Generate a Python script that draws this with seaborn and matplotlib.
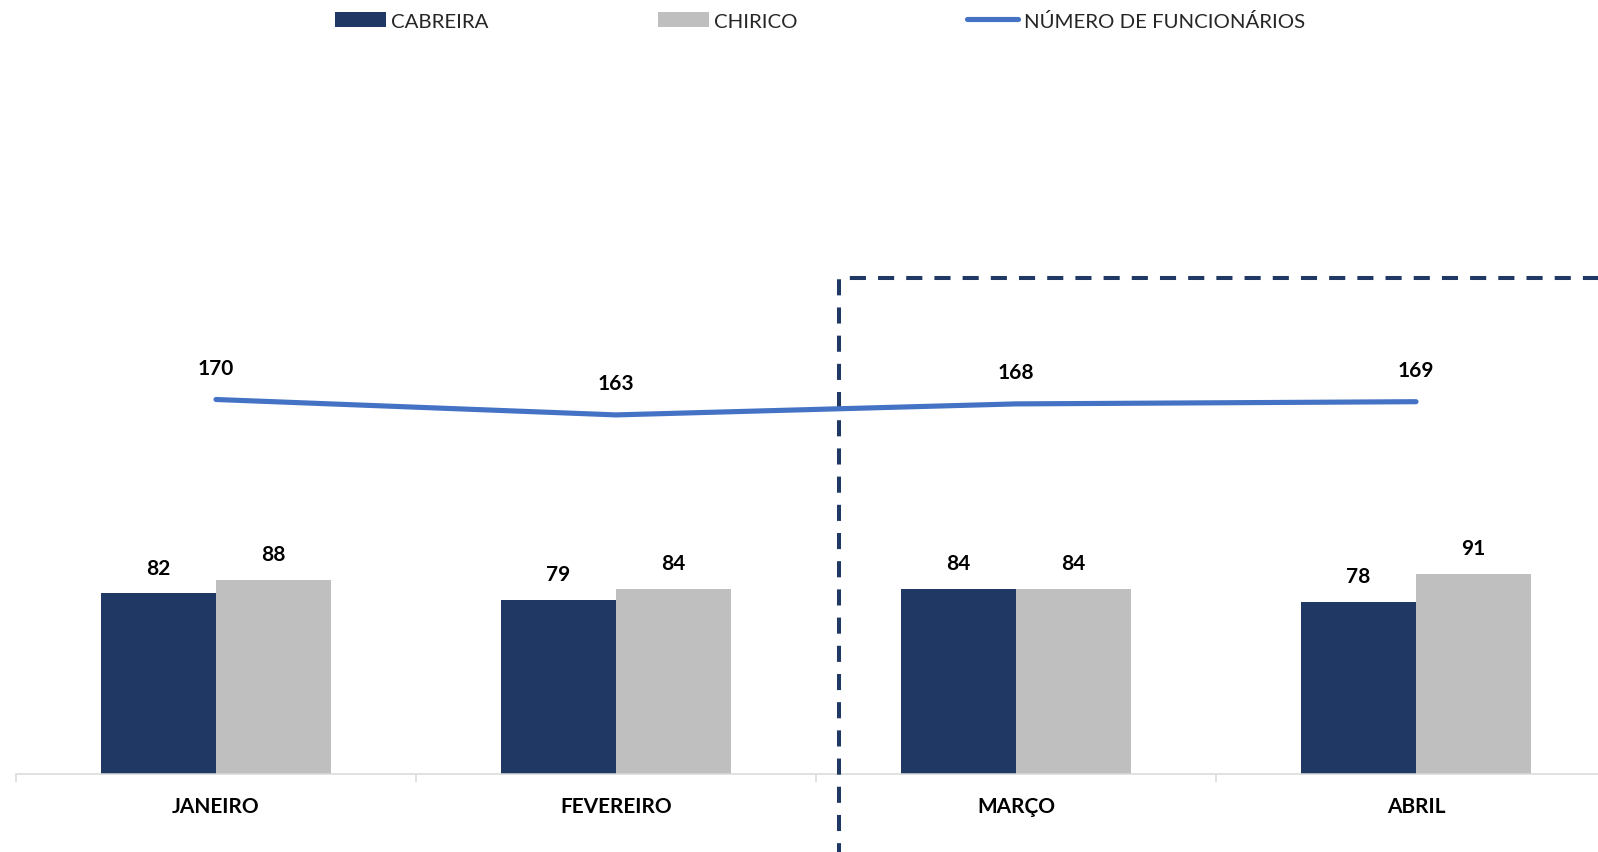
import numpy as np
import pandas as pd
import matplotlib
matplotlib.use("Agg")
import matplotlib.pyplot as plt
import seaborn as sns
from matplotlib.patches import Patch, Rectangle
from matplotlib.lines import Line2D

meses = ["JANEIRO", "FEVEREIRO", "MARÇO", "ABRIL"]
cabreira = [82, 79, 84, 78]
chirico = [88, 84, 84, 91]
funcionarios = [170, 163, 168, 169]
series = ["CABREIRA", "CHIRICO"]
linha_nome = "NÚMERO DE FUNCIONÁRIOS"

NAVY = "#203864"
GRAY = "#BFBFBF"
BLUE = "#4472C4"
AXC = "#D9D9D9"

sns.set_theme(style="white")
plt.rcParams["font.family"] = ["Lato", "DejaVu Sans"]

df = pd.DataFrame({
    "mes": meses * 2,
    "serie": [series[0]] * 4 + [series[1]] * 4,
    "valor": cabreira + chirico,
})

W, H = 1598, 853
fig = plt.figure(figsize=(W / 100, H / 100), dpi=100)
PXU = 2.203  # pixels per unit
ax_bottom_px = 78
ax_top_px = 40
ax = fig.add_axes([16 / W, ax_bottom_px / H, (W - 16) / W, (H - ax_bottom_px - ax_top_px) / H])

sns.barplot(data=df, x="mes", y="valor", hue="serie", order=meses, hue_order=series,
            palette=[NAVY, GRAY], width=0.575, saturation=1, errorbar=None,
            legend=False, ax=ax, zorder=2, edgecolor="none", linewidth=0)

x_pos = np.arange(len(meses))
sns.lineplot(x=x_pos, y=funcionarios, color=BLUE, linewidth=3.7, ax=ax, zorder=4,
             solid_capstyle="round")

# labels
for cont in ax.containers:
    for p in cont.patches:
        v = p.get_height()
        ax.annotate(f"{v:.0f}", (p.get_x() + p.get_width() / 2, v), xytext=(0, 18.5),
                    textcoords="offset points", ha="center", va="center",
                    fontsize=15, fontweight="bold", color="black")
for xi, v in zip(x_pos, funcionarios):
    ax.annotate(f"{v}", (xi, v), xytext=(0, 23), textcoords="offset points",
                ha="center", va="center", fontsize=15, fontweight="bold", color="black")

ax.set_xlim(-0.5, -0.5 + (W - 16) / 400)
ax.set_ylim(0, (H - ax_bottom_px - ax_top_px) / PXU)
ax.set_xlabel("")
ax.set_ylabel("")
ax.set_yticks([])
ax.set_xticks(x_pos)
ax.set_xticklabels(meses, fontsize=15, fontweight="bold", color="black")
ax.set_xticks([-0.5, 0.5, 1.5, 2.5], minor=True)
ax.tick_params(axis="x", which="major", length=0, pad=16)
ax.tick_params(axis="x", which="minor", bottom=True, length=5.8, width=1.1, color=AXC,
               direction="out")
for s in ["left", "right", "top"]:
    ax.spines[s].set_visible(False)
ax.spines["bottom"].set_color(AXC)
ax.spines["bottom"].set_linewidth(1.1)

# dashed highlight box
x0 = (839 - 216) / 400
y_top = (774 - 278) / PXU
y_bot = -(ax_bottom_px + 1.5) / PXU
rect = Rectangle((x0, y_bot), 3.0, y_top - y_bot, fill=False, edgecolor=NAVY,
                 linewidth=2.9, linestyle=(0, (4, 3)), clip_on=False, zorder=3)
ax.add_patch(rect)

handles = [Patch(facecolor=NAVY, edgecolor="none"),
           Patch(facecolor=GRAY, edgecolor="none"),
           Line2D([0], [0], color=BLUE, linewidth=3.7, solid_capstyle="round")]
fig.legend(handles, series + [linha_nome], loc="center", bbox_to_anchor=(820 / W, 1 - 21.5 / H),
           ncol=3, frameon=False, fontsize=14.7, handlelength=2.5, handletextpad=0.25,
           columnspacing=8.3)

fig.savefig("out.png", dpi=100)
